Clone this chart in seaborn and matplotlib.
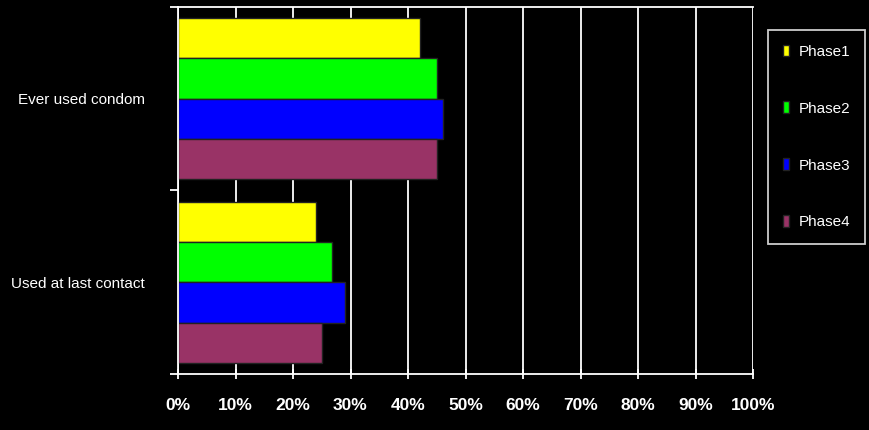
import matplotlib
matplotlib.use("Agg")
import matplotlib.pyplot as plt
import seaborn as sns
import pandas as pd
from matplotlib.ticker import FixedLocator, PercentFormatter

categories = ["Ever used condom", "Used at last contact"]
phases = ["Phase1", "Phase2", "Phase3", "Phase4"]
phase1 = [42.0, 24.0]
phase2 = [45.0, 26.8]
phase3 = [46.0, 29.0]
phase4 = [45.0, 25.0]
x_ticks = [0, 10, 20, 30, 40, 50, 60, 70, 80, 90, 100]
colors = ["#FFFF00", "#00FF00", "#0000FF", "#993366"]

rows = []
for ph, vals in zip(phases, [phase1, phase2, phase3, phase4]):
    for c, v in zip(categories, vals):
        rows.append({"category": c, "phase": ph, "value": v})
df = pd.DataFrame(rows)

sns.set_style("dark")
FONT = ["Liberation Sans", "DejaVu Sans"]
plt.rcParams["font.family"] = FONT

fig = plt.figure(figsize=(8.7, 4.3), dpi=100, facecolor="black")
ax = fig.add_axes([178 / 870, 1 - 374 / 430, (753 - 178) / 870, (374 - 7) / 430])
ax.set_facecolor("black")

sns.barplot(data=df, x="value", y="category", hue="phase", order=categories,
            hue_order=phases, palette=colors, saturation=1, orient="h", width=0.88,
            edgecolor="#222222", linewidth=1.0, ax=ax, legend=True)

ax.set_xlim(0, 100)
ax.set_ylim(1.5, -0.5)
ax.xaxis.set_major_locator(FixedLocator(x_ticks))
ax.xaxis.set_major_formatter(PercentFormatter(decimals=0))
ax.set_axisbelow(True)
ax.grid(axis="x", color="white", linewidth=1.3)
ax.grid(axis="y", visible=False)
ax.set_xlabel("")
ax.set_ylabel("")

ax.set_yticks([0, 1])
ax.set_yticklabels(categories)
ax.yaxis.set_minor_locator(FixedLocator([-0.5, 0.5, 1.5]))
ax.tick_params(axis="y", which="major", length=0, pad=24, colors="white", labelsize=11)
ax.tick_params(axis="y", which="minor", length=6, width=1.3, color="white", left=True)
ax.tick_params(axis="x", which="major", length=7, width=1.3, color="white", bottom=True,
               labelcolor="white", labelsize=12.5, pad=14, direction="inout")
for lab in ax.get_xticklabels():
    lab.set_fontweight("bold")

for side in ["left", "bottom", "top"]:
    ax.spines[side].set_visible(True)
    ax.spines[side].set_color("white")
    ax.spines[side].set_linewidth(1.3)
ax.spines["right"].set_visible(False)

handles, labels = ax.get_legend_handles_labels()
leg = ax.legend(handles, labels, loc="upper left",
                bbox_to_anchor=(768 / 870, 1 - 30 / 430), bbox_transform=fig.transFigure,
                frameon=True, fancybox=False, facecolor="black", edgecolor="white",
                labelcolor="white", prop={"family": FONT, "size": 11},
                handlelength=0.45, handleheight=0.8, handletextpad=0.6,
                labelspacing=2.8, borderpad=0.95, borderaxespad=0)
leg.get_frame().set_linewidth(1.3)

fig.savefig("out.png", dpi=100, facecolor="black")
